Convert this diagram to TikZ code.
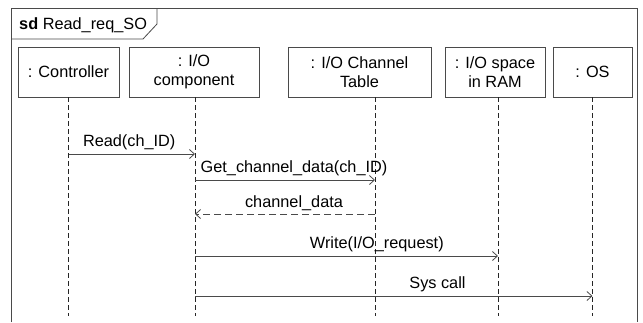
\documentclass[tikz,border=0pt]{standalone}
\usepackage{fontspec}
\setmainfont{Liberation Sans}
\usetikzlibrary{arrows.meta}
\definecolor{linegray}{HTML}{4A4A4A}
\begin{document}
\begin{tikzpicture}[x=1pt,y=-1pt,
		font=\fontsize{16.3}{19}\selectfont,
		objbox/.style={draw=linegray,line width=0.8pt,align=center,minimum height=50pt,inner sep=0pt},
		life/.style={draw=black!85,line width=0.8pt,dash pattern=on 5pt off 3pt},
		msg/.style={draw=linegray,line width=0.8pt,-{Straight Barb[length=5pt,width=9pt]}},
		reply/.style={msg,dash pattern=on 7pt off 4pt}]
	\useasboundingbox (0,0) rectangle (643,322);
	% frame and its tab
	\draw[linegray,line width=0.9pt] (11,322) -- (11,8) -- (637,8) -- (637,322);
	\draw[linegray,line width=0.8pt] (11,39) -- (143,39) -- (157,24) -- (157,8);
	\node[anchor=west,inner sep=0pt] (title) at (19,25) {\textbf{sd} Read\_req\_SO};
	% objects
	\node[objbox,minimum width=101pt] (ctrl) at (68.5,72) {: Controller};
	\node[objbox,minimum width=130pt] (io) at (194,72) {: I/O\\component};
	\node[objbox,minimum width=143pt] (table) at (359.5,72) {: I/O Channel\\Table};
	\node[objbox,minimum width=100pt] (ram) at (495,72) {: I/O space\\in RAM};
	\node[objbox,minimum width=79pt] (os) at (592.5,72) {: OS};
	% lifelines
	\coordinate (Lctrl) at (ctrl.south);
	\coordinate (Lio) at ([xshift=1pt]io.south);
	\coordinate (Ltable) at ([xshift=15.5pt]table.south);
	\coordinate (Lram) at ([xshift=3pt]ram.south);
	\coordinate (Los) at (os.south);
	\coordinate (bottom) at (0,316);
	\foreach \l in {Lctrl,Lio,Ltable,Lram,Los}
		\draw[life] (\l) -- (\l |- bottom);
	% messages
	\coordinate (m1) at (0,154);
	\coordinate (m2) at (0,180);
	\coordinate (m3) at (0,214);
	\coordinate (m4) at (0,256);
	\coordinate (m5) at (0,296);
	\draw[msg] (Lctrl |- m1) -- node[above,pos=0.48] {Read(ch\_ID)} (Lio |- m1);
	\draw[msg] (Lio |- m2) -- node[above,pos=0.55] {Get\_channel\_data(ch\_ID)} (Ltable |- m2);
	\draw[reply] (Ltable |- m3) -- node[above,pos=0.45] {channel\_data} (Lio |- m3);
	\draw[msg] (Lio |- m4) -- node[above,pos=0.60] {Write(I/O\_request)} (Lram |- m4);
	\draw[msg] (Lio |- m5) -- node[above,pos=0.61] {Sys call} (Los |- m5);
\end{tikzpicture}
\end{document}
